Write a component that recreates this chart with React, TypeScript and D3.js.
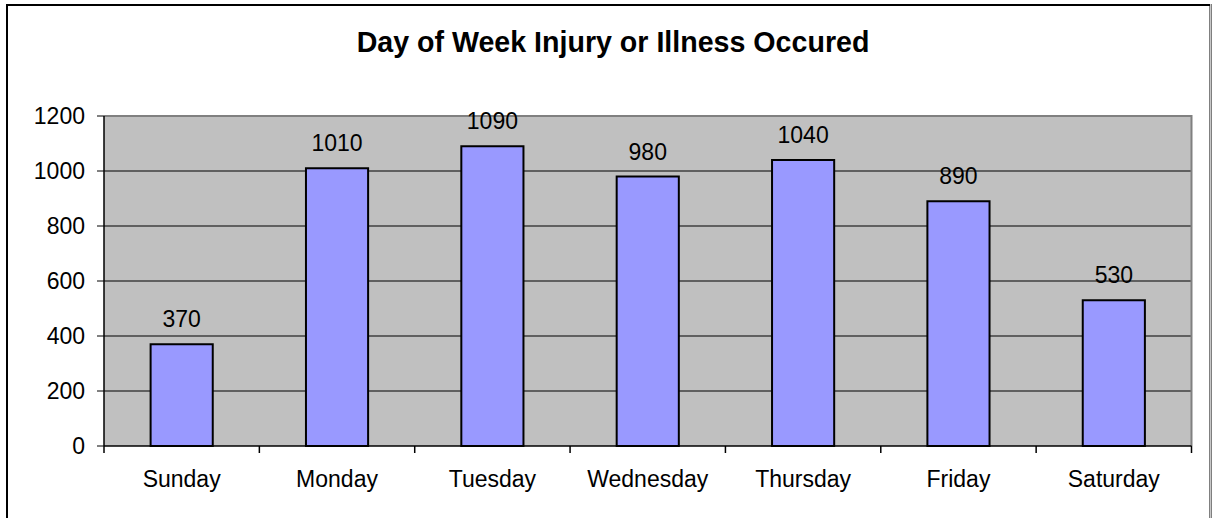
import React from 'react'
import * as d3 from 'd3'

const days = ['Sunday', 'Monday', 'Tuesday', 'Wednesday', 'Thursday', 'Friday', 'Saturday']
const counts = [370, 1010, 1090, 980, 1040, 890, 530]
const yTicks = [0, 200, 400, 600, 800, 1000, 1200]

const W = 1212
const H = 518
const font = '"Liberation Sans", Arial, sans-serif'

export default function App() {
  const left = 104
  const right = 1191.5
  const top = 116
  const bottom = 446

  const x = d3.scaleBand<string>().domain(days).range([left, right]).padding(0)
  const y = d3.scaleLinear().domain([0, 1200]).range([bottom, top])
  const barW = x.bandwidth() * 0.4

  return (
    <svg
      width={W}
      height={H}
      style={{ position: 'absolute', left: 0, top: 0, background: '#fff' }}
      fontFamily={font}
    >
      {/* outer frame */}
      <rect x={7} y={5} width={1203.5} height={H + 10} fill="#fff" stroke="#000" strokeWidth={2} />
      <line x1={1210.5} x2={1210.5} y1={4} y2={H} stroke="#c8c8c8" strokeWidth={1} />

      <text x={613} y={52} textAnchor="middle" fontSize={28.6} fontWeight="bold" fill="#000">
        Day of Week Injury or Illness Occured
      </text>

      {/* plot area */}
      <rect x={left} y={top} width={right - left} height={bottom - top} fill="#c0c0c0" />
      {yTicks.map((t) => (
        <g key={t}>
          {t > 0 && t < 1200 && (
            <line x1={left} x2={right} y1={y(t)} y2={y(t)} stroke="#000" strokeWidth={1} />
          )}
          <line x1={97} x2={left} y1={y(t)} y2={y(t)} stroke="#000" strokeWidth={1} />
          <text x={85} y={y(t)} dy="0.35em" textAnchor="end" fontSize={23} fill="#000">
            {t}
          </text>
        </g>
      ))}
      {/* top and right border of plot */}
      <polyline
        points={`${left},${top} ${right},${top} ${right},${bottom}`}
        fill="none"
        stroke="#808080"
        strokeWidth={2}
      />

      {days.map((d, i) => {
        const cx = (x(d) as number) + x.bandwidth() / 2
        const v = counts[i]
        return (
          <g key={d}>
            <rect
              x={cx - barW / 2}
              y={y(v)}
              width={barW}
              height={bottom - y(v)}
              fill="#9999ff"
              stroke="#000"
              strokeWidth={2}
            />
            <text x={cx} y={y(v) - 17} textAnchor="middle" fontSize={23} fill="#000">
              {v}
            </text>
            <text x={cx} y={487} textAnchor="middle" fontSize={23} fill="#000">
              {d}
            </text>
          </g>
        )
      })}

      {/* axes */}
      <line x1={left} x2={left} y1={top} y2={bottom} stroke="#000" strokeWidth={1.5} />
      <line x1={left} x2={right} y1={bottom} y2={bottom} stroke="#000" strokeWidth={1.5} />
      {days.concat(['end']).map((d, i) => {
        const tx = left + i * x.bandwidth()
        return <line key={d} x1={tx} x2={tx} y1={bottom} y2={bottom + 7} stroke="#000" strokeWidth={1.5} />
      })}
    </svg>
  )
}
